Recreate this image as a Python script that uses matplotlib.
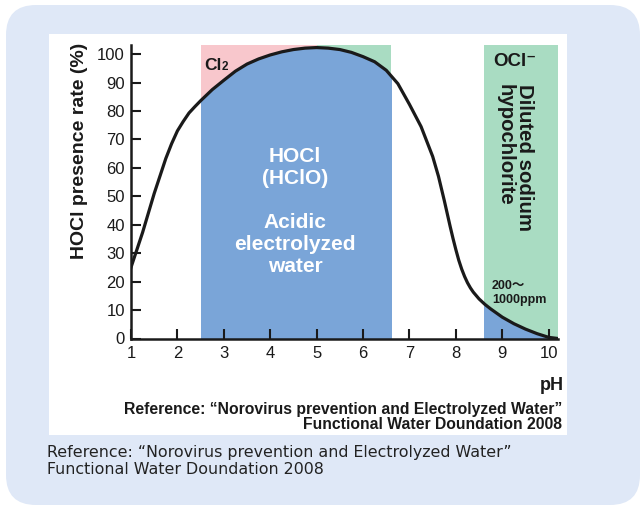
import matplotlib
matplotlib.use("Agg")
import matplotlib.pyplot as plt
from matplotlib.patches import FancyBboxPatch, Rectangle
from matplotlib.transforms import IdentityTransform

plt.rcParams['font.family'] = ['Liberation Sans', 'DejaVu Sans', 'Noto Sans CJK JP']

# HOCl presence rate (%), per pH
ph = [1.0, 1.25, 1.5, 1.75, 1.875, 2.0, 2.125, 2.25, 2.375, 2.5, 2.75, 3.0,
      3.25, 3.5, 3.75, 4.0, 4.25, 4.5, 4.75, 5.0, 5.25, 5.5, 5.75, 6.0,
      6.25, 6.5, 6.75, 7.0, 7.25, 7.5, 7.625, 7.75, 7.875, 7.9375, 8.0, 8.0625,
      8.125, 8.1875, 8.25, 8.3125, 8.375, 8.5, 8.625, 8.75, 9.0, 9.25,
      9.5, 9.75, 10.0, 10.2]
rate = [25, 37.3, 51, 63.3, 68.5, 73.0, 76.3, 79.3, 81.5, 83.6, 87.5, 90.8,
        94.0, 96.5, 98.3, 99.7, 100.8, 101.6, 102.1, 102.3, 102.1, 101.6, 100.6, 99.1,
        97.3, 94.3, 89.6, 82.3, 74.5, 64.0, 57.0, 48.5, 39.5, 35.2, 31.2, 27.5,
        24.4, 21.8, 19.6, 17.8, 16.3, 13.9, 12.0, 10.4, 7.5, 5.2,
        3.3, 1.7, 0.4, 0.0]

ph_ticks = list(range(1, 11))
rate_ticks = list(range(0, 101, 10))

acidic_range = (2.5, 6.6)   # acidic electrolyzed water
cl2_end = 5.0               # Cl2 zone above the curve, left part
hypo_range = (8.6, 10.2)    # diluted sodium hypochlorite

BLUE = '#7aa5d8'
PINK = '#f8c7cc'
GREEN = '#a9dcc2'
BG = '#dfe8f7'
INK = '#1a1a1a'

W, H = 642, 507


def fx(x, y):
    # pixel position (from top-left) -> figure fraction
    return x / W, 1 - y / H


fig = plt.figure(figsize=(W / 100, H / 100), dpi=100)

# light blue rounded card + white picture panel
fig.add_artist(FancyBboxPatch((6, 2), 634, 500, boxstyle='round,pad=0,rounding_size=30',
                              transform=IdentityTransform(), fc=BG, ec='none', zorder=-10))
fig.add_artist(Rectangle((49, 72), 518, 401, transform=IdentityTransform(),
                         fc='white', ec='none', zorder=-9))

ax = fig.add_axes([131 / W, (H - 338.5) / H, 427 / W, (338.5 - 45) / H])
ax.set_facecolor('none')
ax.set_xlim(1, 10.2)
ax.set_ylim(0, 103.2)

# shaded zones
ax.axvspan(acidic_range[0], cl2_end, color=PINK, lw=0, zorder=0)
ax.axvspan(cl2_end, acidic_range[1], color=GREEN, lw=0, zorder=0)
ax.axvspan(hypo_range[0], hypo_range[1], color=GREEN, lw=0, zorder=0)
for lo, hi in [acidic_range, hypo_range]:
    f = ax.fill_between(ph, 0, rate, color=BLUE, lw=0, zorder=1)
    f.set_clip_path(Rectangle((lo, 0), hi - lo, 120, transform=ax.transData))

ax.plot(ph, rate, color=INK, lw=2.3, zorder=3, solid_joinstyle='round')

ax.set_xticks(ph_ticks)
ax.set_yticks(rate_ticks)
ax.tick_params(direction='in', length=7, width=1.5, labelsize=12, colors=INK)
ax.tick_params(axis='x', pad=5.5)
ax.tick_params(axis='y', pad=4.5)
for s in ['top', 'right']:
    ax.spines[s].set_visible(False)
for s in ['left', 'bottom']:
    ax.spines[s].set_linewidth(1.8)
    ax.spines[s].set_color(INK)

# labels
fig.text(*fx(79, 151), 'HOCl presence rate (%)', rotation=90, ha='center', va='center',
         fontsize=14, fontweight='bold', color=INK)
fig.text(*fx(552, 385), 'pH', ha='center', va='center', fontsize=13, fontweight='bold', color=INK)

fig.text(*fx(204, 69.5), 'Cl', ha='left', va='baseline', fontsize=12.5, fontweight='bold', color=INK)
fig.text(*fx(221.5, 69.5), '2', ha='left', va='baseline', fontsize=8.5, fontweight='bold', color=INK)
fig.text(*fx(493, 62), 'OCl⁻', ha='left', va='center', fontsize=13.5, fontweight='bold', color=INK)
fig.text(*fx(515, 84), 'Diluted sodium\nhypochlorite', rotation=-90, ha='center', va='top',
         multialignment='left', fontsize=14.7, fontweight='bold', linespacing=1.0, color=INK)
fig.text(*fx(492, 293), '200～\n1000ppm', ha='left', va='center', fontsize=9,
         fontweight='bold', linespacing=1.3, color=INK)

fig.text(*fx(295, 212), 'HOCl\n(HClO)\n\nAcidic\nelectrolyzed\nwater', color='white',
         ha='center', va='center', fontsize=15, fontweight='bold', linespacing=1.2)

fig.text(*fx(562, 417), 'Reference: “Norovirus prevention and Electrolyzed Water”\n'
         'Functional Water Doundation 2008', ha='right', va='center', multialignment='right',
         fontsize=11.3, fontweight='bold', linespacing=1.06, color=INK)

fig.text(*fx(47, 461), 'Reference: “Norovirus prevention and Electrolyzed Water”\n'
         'Functional Water Doundation 2008', ha='left', va='center', family='DejaVu Sans',
         fontsize=11.4, linespacing=1.2, color='#222222')

fig.savefig('out.png', dpi=100, facecolor='white')
